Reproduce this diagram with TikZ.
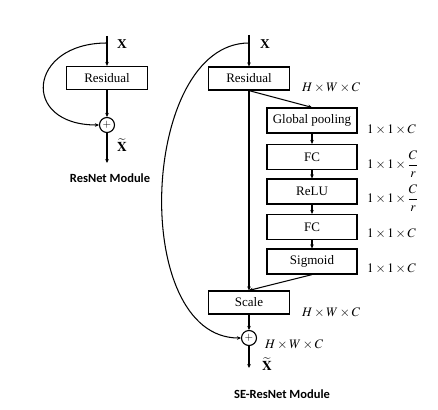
\documentclass[tikz,border=0pt]{standalone}
\usepackage{amsmath}
\usepackage{mathptmx}
\usepackage{fontspec}
\setmainfont{Liberation Serif}
\newfontfamily\capfont{Carlito}
\usetikzlibrary{arrows.meta}

\begin{document}
\begin{tikzpicture}[x=1pt, y=-1pt,
    block/.style={rectangle, draw, line width=1.2pt, minimum width=81pt, minimum height=23pt, inner sep=0pt, font=\fontsize{13}{15}\selectfont},
    sblock/.style={rectangle, draw, line width=1.2pt, minimum width=90pt, minimum height=25pt, inner sep=0pt, font=\fontsize{13}{15}\selectfont},
    sumnode/.style={circle, draw, line width=1.1pt, minimum size=15pt, inner sep=0pt, font=\fontsize{11}{11}\selectfont},
    dimlab/.style={anchor=west, inner sep=0pt, font=\fontsize{13}{15}\selectfont},
    xlab/.style={inner sep=0pt, font=\fontsize{13.5}{15}\selectfont\bfseries},
    title/.style={inner sep=0pt, font=\fontsize{12.5}{14}\selectfont\capfont\bfseries},
    arr/.style={-{Stealth[length=4pt,width=3.6pt]}, line width=1.05pt}]

    \useasboundingbox (0,0) rectangle (438,409);

    % ResNet module
    \coordinate (lin) at (107,36);
    \coordinate (lsplit) at (107,43);
    \node[block] (lres) at (107,78) {Residual};
    \node[sumnode] (lsum) at (107,125) {$+$};
    \coordinate (lout) at (107,163);
    \node[xlab] (lx) at (122,44) {X};
    \node[xlab] (lxt) at (122,145) {$\widetilde{\mathbf{X}}$};
    \node[title] (ltitle) at (110,178) {ResNet Module};

    \draw[arr] (lin) -- (lres.north);
    \draw[arr] (lres.south) -- (lsum.north);
    \draw[arr] (lsum.south) -- (lout);
    \draw[arr] (lsplit) .. controls (28,43) and (20,125) .. (lsum.west);

    % SE-ResNet module
    \coordinate (rin) at (249,35);
    \coordinate (rsplit) at (249,43);
    \node[block] (rres) at (249,78.5) {Residual};
    \node[sblock] (gp) at (312,120.5) {Global pooling};
    \node[sblock] (fc1) at (312,157) {FC};
    \node[sblock] (relu) at (312,191.5) {ReLU};
    \node[sblock] (fc2) at (312,227) {FC};
    \node[sblock] (sig) at (312,261.5) {Sigmoid};
    \node[block] (scale) at (249,302.5) {Scale};
    \node[sumnode] (rsum) at (249,338) {$+$};
    \coordinate (rout) at (249,368);

    \node[xlab] (rx) at (265,44) {X};
    \node[xlab] (rxt) at (267,364) {$\widetilde{\mathbf{X}}$};
    \node[dimlab] (dres) at (302,88) {$H\times W\times C$};
    \node[dimlab] (dgp) at (367,130) {$1\times 1\times C$};
    \node[dimlab] (dfc1) at (367,164) {$1\times 1\times \dfrac{C}{r}$};
    \node[dimlab] (drelu) at (367,198) {$1\times 1\times \dfrac{C}{r}$};
    \node[dimlab] (dfc2) at (367,234) {$1\times 1\times C$};
    \node[dimlab] (dsig) at (367,269) {$1\times 1\times C$};
    \node[dimlab] (dscale) at (302,313) {$H\times W\times C$};
    \node[dimlab] (dsum) at (265,345) {$H\times W\times C$};
    \node[title] (rtitle) at (282,394) {SE-ResNet Module};

    \draw[arr] (rin) -- (rres.north);
    \draw[arr] (rres.south) -- (scale.north);
    \draw[arr] (rres.south) -- (gp.north);
    \draw[arr] (gp) -- (fc1);
    \draw[arr] (fc1) -- (relu);
    \draw[arr] (relu) -- (fc2);
    \draw[arr] (fc2) -- (sig);
    \draw[arr] (sig.south) -- (scale.north);
    \draw[arr] (scale.south) -- (rsum.north);
    \draw[arr] (rsum.south) -- (rout);
    \draw[arr] (rsplit) .. controls (140,43) and (129,338) .. (rsum.west);
\end{tikzpicture}
\end{document}
